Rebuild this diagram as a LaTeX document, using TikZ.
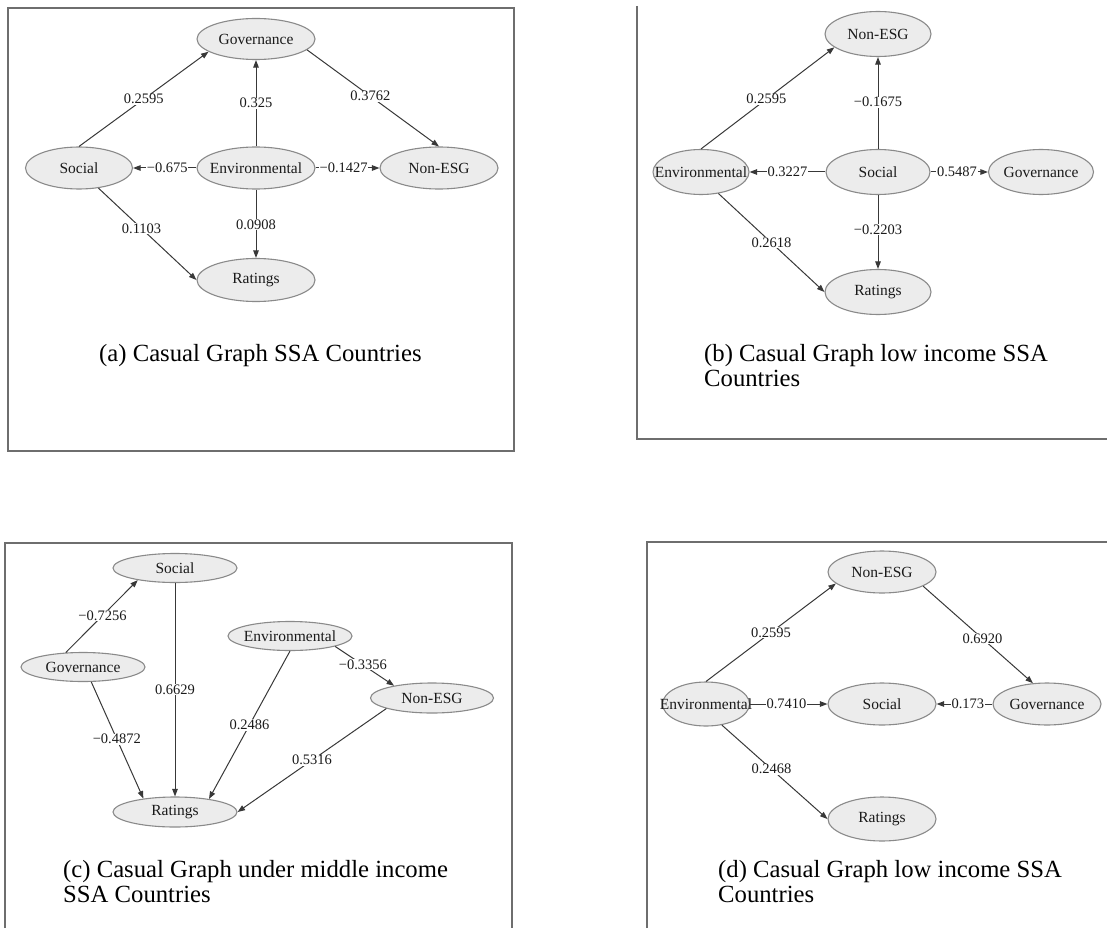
\documentclass[tikz,border=0pt]{standalone}
\usepackage{fontspec}
\setmainfont{Liberation Serif}
\usetikzlibrary{shapes.geometric,arrows.meta}
\definecolor{ellfill}{HTML}{ECECEC}
\definecolor{ellline}{HTML}{8A8A8A}
\definecolor{edgecol}{HTML}{383838}
\definecolor{txt}{HTML}{1A1A1A}
\definecolor{framecol}{HTML}{6E6E6E}
\newcommand\ndfont{\fontsize{15.5}{18}\selectfont}
\newcommand\lbfont{\fontsize{14.5}{16}\selectfont}
\newcommand\cpfont{\fontsize{24.7}{24.5}\selectfont}
\begin{document}
\begin{tikzpicture}[x=1pt,y=-1pt,
  ell/.style={ellipse, draw=ellline, fill=ellfill, line width=1.1pt, inner sep=0pt, font=\ndfont, text=txt},
  conn/.style={draw=edgecol, line width=1pt, -{Triangle[length=7.5pt,width=5.5pt]}},
  lab/.style={fill=white, inner sep=0.6pt, font=\lbfont, text=txt},
  captext/.style={font=\cpfont, text=black, inner sep=0pt, align=left, anchor=base west},
  frm/.style={draw=framecol, line width=1.5pt}]
\useasboundingbox (0,0) rectangle (1107,928);

% ---------- frames
\draw[frm] (8,8) rectangle (514,451);
\draw[frm] (637,6) -- (637,439) -- (1107,439);
\draw[frm] (5,928) -- (5,543) -- (512,543) -- (512,928);
\draw[frm] (647,928) -- (647,542) -- (1107,542);

% ---------- panel (a)
\node[ell, minimum width=118pt, minimum height=41pt] (a-gov) at (256,39) {\makebox[0pt]{Governance}};
\node[ell, minimum width=107pt, minimum height=42pt] (a-soc) at (79,168) {\makebox[0pt]{Social}};
\node[ell, minimum width=118pt, minimum height=42pt] (a-env) at (256,168) {\makebox[0pt]{Environmental}};
\node[ell, minimum width=118pt, minimum height=42pt] (a-non) at (439,168) {\makebox[0pt]{Non-ESG}};
\node[ell, minimum width=118pt, minimum height=43pt] (a-rat) at (256,280) {\makebox[0pt]{Ratings}};
\draw[conn] (a-soc.north) -- node[lab,pos=0.5]{0.2595} (a-gov.195);
\draw[conn] (a-env.north) -- node[lab,pos=0.5]{0.325} (a-gov.south);
\draw[conn] (a-gov.348) -- node[lab,pos=0.48]{0.3762} (a-non.north);
\draw[conn] (a-env.west) -- node[lab,pos=0.46]{−0.675} (a-soc.east);
\draw[conn] (a-env.east) -- node[lab,pos=0.44]{−0.1427} (a-non.west);
\draw[conn] (a-env.south) -- node[lab,pos=0.51]{0.0908} (a-rat.north);
\draw[conn] (a-soc.314) -- node[lab,pos=0.44]{0.1103} (a-rat.west);
\node[captext] (a-cap) at (99,361) {(a) Casual Graph SSA Countries};

% ---------- panel (b)
\node[ell, minimum width=106pt, minimum height=45pt] (b-non) at (878,34) {\makebox[0pt]{Non-ESG}};
\node[ell, minimum width=104pt, minimum height=45pt] (b-soc) at (878,172) {\makebox[0pt]{Social}};
\node[ell, minimum width=96pt, minimum height=45pt] (b-env) at (701,172) {\makebox[0pt]{Environmental}};
\node[ell, minimum width=105pt, minimum height=45pt] (b-gov) at (1041,172) {\makebox[0pt]{Governance}};
\node[ell, minimum width=106pt, minimum height=45pt] (b-rat) at (878,292) {\makebox[0pt]{Ratings}};
\draw[conn] (b-env.north) -- node[lab,pos=0.49]{0.2595} (b-non.197);
\draw[conn] (b-soc.north) -- node[lab,pos=0.51]{−0.1675} (b-non.south);
\draw[conn] (b-soc.west) -- node[lab,pos=0.5]{0.3227} (b-env.east);
\draw[conn] (b-soc.east) -- node[lab,pos=0.46]{0.5487} (b-gov.west);
\draw[conn] (b-soc.south) -- node[lab,pos=0.47]{−0.2203} (b-rat.north);
\draw[conn] (b-env.309) -- node[lab,pos=0.5]{0.2618} (b-rat.west);
\node[captext] (b-cap) at (704,386) {(b) Casual Graph low income SSA\\Countries};

% ---------- panel (c)
\node[ell, minimum width=124pt, minimum height=29pt] (c-soc) at (175,568) {\makebox[0pt]{Social}};
\node[ell, minimum width=124pt, minimum height=29pt] (c-gov) at (83,667) {\makebox[0pt]{Governance}};
\node[ell, minimum width=124pt, minimum height=29pt] (c-env) at (290,636) {\makebox[0pt]{Environmental}};
\node[ell, minimum width=123pt, minimum height=30pt] (c-non) at (432,698) {\makebox[0pt]{Non-ESG}};
\node[ell, minimum width=124pt, minimum height=30pt] (c-rat) at (175,812) {\makebox[0pt]{Ratings}};
\draw[conn] (c-gov.140) -- node[lab,pos=0.51]{−0.7256} (c-soc.198);
\draw[conn] (c-soc.south) -- node[lab,pos=0.5]{0.6629} (c-rat.north);
\draw[conn] (c-gov.299) -- node[lab,pos=0.49]{−0.4872} (c-rat.157);
\draw[conn] (c-env.south) -- node[lab,pos=0.5]{0.2486} (c-rat.21);
\draw[conn] (c-env.347) -- node[lab,pos=0.47]{−0.3356} (c-non.162);
\draw[conn] (c-non.193) -- node[lab,pos=0.5]{0.5316} (c-rat.east);
\node[captext] (c-cap) at (63,902) {(c) Casual Graph under middle income\\SSA Countries};

% ---------- panel (d)
\node[ell, minimum width=108pt, minimum height=42pt] (d-non) at (882,572) {\makebox[0pt]{Non-ESG}};
\node[ell, minimum width=87pt, minimum height=44pt] (d-env) at (706,704) {\makebox[0pt]{Environmental}};
\node[ell, minimum width=108pt, minimum height=42pt] (d-soc) at (882,704) {\makebox[0pt]{Social}};
\node[ell, minimum width=108pt, minimum height=42pt] (d-gov) at (1047,704) {\makebox[0pt]{Governance}};
\node[ell, minimum width=108pt, minimum height=44pt] (d-rat) at (882,819) {\makebox[0pt]{Ratings}};
\draw[conn] (d-env.north) -- node[lab,pos=0.5]{0.2595} (d-non.194);
\draw[conn] (d-non.341) -- node[lab,pos=0.54]{0.6920} (d-gov.124);
\draw[conn] (d-env.east) -- node[lab,pos=0.47]{0.7410} (d-soc.west);
\draw[conn] (d-gov.west) -- node[lab,pos=0.44]{0.173} (d-soc.east);
\draw[conn] (d-env.307) -- node[lab,pos=0.47]{0.2468} (d-rat.west);
\node[captext] (d-cap) at (718,902) {(d) Casual Graph low income SSA\\Countries};
\end{tikzpicture}
\end{document}
